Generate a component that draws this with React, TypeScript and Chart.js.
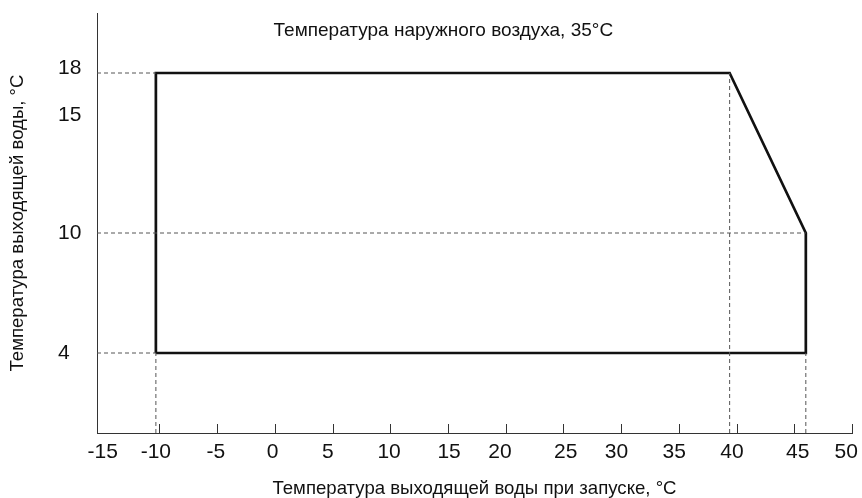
import React, { useEffect, useRef } from "react";
import { Chart, registerables } from "chart.js";

Chart.register(...registerables);

// ---- data ----
const envelopeX = [-10.3, -10.3, 39.4, 46, 46, -10.3];
const envelopeY = [4, 18, 18, 10, 4, 4];

const xMin = -15.4;
const xMax = 50;
const yMin = 0;
const yMax = 21;

// x tick labels and where they sit on the axis
const xTickLabels = ["-15", "-10", "-5", "0", "5", "10", "15", "20", "25", "30", "35", "40", "45", "50"];
const xLabelPositions = [-14.9, -10.3, -5.1, -0.2, 4.6, 9.9, 15.1, 19.5, 25.2, 29.6, 34.6, 39.6, 45.3, 49.5];
const xTickMarks = [-10, -5, 0, 5, 10, 15, 20, 25, 30, 35, 40, 45, 50];
const yTickPositions = [4, 10, 15.9, 18.25];
const yTickLabels = ["4", "10", "15", "18"];

// dashed guide lines: [x1, y1, x2, y2]
const guide18 = [xMin, 18, -10.3, 18];
const guide10 = [xMin, 10, 46, 10];
const guide4 = [xMin, 4, -10.3, 4];
const guideVLeft = [-10.3, yMin, -10.3, 4];
const guideVMid = [39.4, yMin, 39.4, 18];
const guideVRight = [46, yMin, 46, 4];

const topNote = "Температура наружного воздуха, 35°C";
const topNoteX = 14.6;
const topNoteY = 20.1;
const xTitle = "Температура выходящей воды при запуске, °C";
const yTitle = "Температура выходящей воды, °C";

const FONT = '"Liberation Sans", Arial, Helvetica, sans-serif';

const seg = (g: number[]) => [
  { x: g[0], y: g[1] },
  { x: g[2], y: g[3] },
];

const overlayPlugin = {
  id: "overlay",
  afterDatasetsDraw(chart: any) {
    const { ctx, chartArea, scales } = chart;
    const x = scales.x;
    const y = scales.y;
    ctx.save();
    ctx.strokeStyle = "#333";
    ctx.lineWidth = 1;
    xTickMarks.forEach((v) => {
      const px = Math.round(x.getPixelForValue(v)) + 0.5;
      ctx.beginPath();
      ctx.moveTo(px, chartArea.bottom);
      ctx.lineTo(px, chartArea.bottom - 9);
      ctx.stroke();
    });
    ctx.font = `19px ${FONT}`;
    ctx.fillStyle = "#111";
    ctx.textAlign = "center";
    ctx.textBaseline = "middle";
    ctx.fillText(topNote, x.getPixelForValue(topNoteX), y.getPixelForValue(topNoteY));
    ctx.restore();
  },
};

export default function App() {
  const ref = useRef<HTMLCanvasElement>(null);
  useEffect(() => {
    if (!ref.current) return;
    const dashed = (g: number[]) => ({
      data: seg(g),
      borderColor: "#555",
      borderWidth: 1,
      borderDash: [4, 3],
      pointRadius: 0,
      showLine: true,
      fill: false,
    });
    const chart = new Chart(ref.current, {
      type: "scatter",
      data: {
        datasets: [
          dashed(guide18),
          dashed(guide10),
          dashed(guide4),
          dashed(guideVLeft),
          dashed(guideVMid),
          dashed(guideVRight),
          {
            data: envelopeX.map((v, i) => ({ x: v, y: envelopeY[i] })),
            borderColor: "#111",
            borderWidth: 2.7,
            pointRadius: 0,
            showLine: true,
            fill: false,
            borderJoinStyle: "miter",
          } as any,
        ],
      },
      options: {
        animation: false,
        responsive: false,
        layout: { padding: { left: 58, right: 10, top: 13, bottom: 0 } },
        plugins: { legend: { display: false }, tooltip: { enabled: false } },
        scales: {
          x: {
            type: "linear",
            min: xMin,
            max: xMax,
            afterBuildTicks: (s: any) => {
              s.ticks = xLabelPositions.map((v) => ({ value: v }));
            },
            afterFit: (s: any) => {
              s.height = 65;
              s.paddingLeft = 0;
              s.paddingRight = 0;
            },
            grid: { display: false, drawTicks: false },
            border: { display: true, color: "#333", width: 1 },
            ticks: {
              autoSkip: false,
              maxRotation: 0,
              padding: 7,
              color: "#111",
              font: { family: FONT, size: 21 },
              callback: (_v: any, i: number) => xTickLabels[i],
            },
            title: {
              display: true,
              text: xTitle,
              color: "#111",
              font: { family: FONT, size: 18.6, lineHeight: 1 },
              padding: { top: 0, bottom: 0 },
            },
          },
          y: {
            type: "linear",
            min: yMin,
            max: yMax,
            afterBuildTicks: (s: any) => {
              s.ticks = yTickPositions.map((v) => ({ value: v }));
            },
            afterFit: (s: any) => {
              s.width = 39;
              s.paddingTop = 0;
              s.paddingBottom = 0;
            },
            grid: { display: false, drawTicks: false },
            border: { display: true, color: "#333", width: 1 },
            ticks: {
              crossAlign: "far",
              padding: 15,
              color: "#111",
              font: { family: FONT, size: 21 },
              callback: (_v: any, i: number) => yTickLabels[i],
            },
            title: {
              display: true,
              text: yTitle,
              color: "#111",
              font: { family: FONT, size: 18.6, lineHeight: 1 },
              padding: { top: -49.3, bottom: 0 },
            },
          },
        },
      },
      plugins: [overlayPlugin],
    });
    return () => chart.destroy();
  }, []);
  return (
    <div style={{ position: "fixed", left: 0, top: 0, width: 862, height: 498, background: "#fff" }}>
      <canvas ref={ref} width={862} height={498} style={{ display: "block" }} />
    </div>
  );
}
